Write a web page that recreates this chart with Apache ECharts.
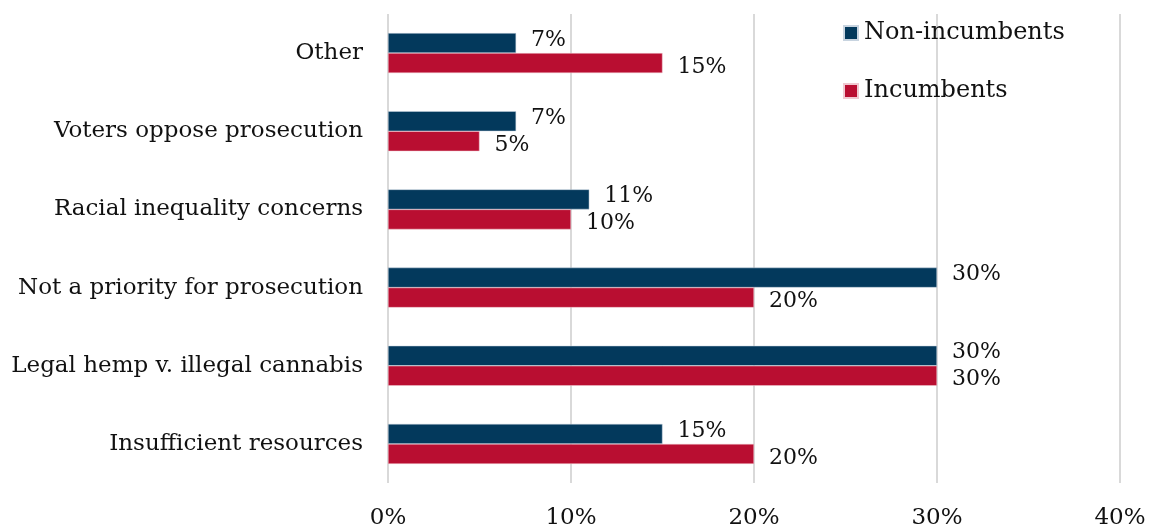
<!DOCTYPE html>
<html><head><meta charset="utf-8">
<script src="https://cdn.jsdelivr.net/npm/echarts@6/dist/echarts.min.js"></script>
<style>html,body{margin:0;padding:0;background:#fff}#c{width:1149px;height:525px}</style>
</head><body><div id="c"></div>
<script>
const categories = ["Insufficient resources","Legal hemp v. illegal cannabis","Not a priority for prosecution","Racial inequality concerns","Voters oppose prosecution","Other"];
const nonIncumbents = [15,30,30,11,7,7];
const incumbents = [20,30,20,10,5,15];
const xTicks = [0,10,20,30,40];
const FONT = "DejaVu Serif";
const chart = echarts.init(document.getElementById('c'));
chart.setOption({
  animation:false,
  textStyle:{fontFamily:FONT},
  grid:{left:388,right:29,top:14,bottom:42,containLabel:false,outerBoundsMode:'none'},
  legend:{orient:'vertical',left:838,top:16,itemWidth:14,itemHeight:14,itemGap:34,icon:'rect',
    data:['Non-incumbents','Incumbents'],
    textStyle:{fontFamily:FONT,fontSize:24,color:'#111',padding:[0,0,0,1]}},
  xAxis:{type:'value',min:xTicks[0],max:xTicks[xTicks.length-1],interval:10,
    axisLine:{show:false},axisTick:{show:false},
    splitLine:{lineStyle:{color:'#d9d9d9',width:2}},
    axisLabel:{formatter:'{value}%',fontFamily:FONT,fontSize:23,color:'#111',margin:24}},
  yAxis:{type:'category',data:categories,
    axisLine:{show:false},axisTick:{show:false},
    axisLabel:{fontFamily:FONT,fontSize:23,color:'#111',margin:25}},
  series:[
    {name:'Non-incumbents',type:'bar',data:nonIncumbents,barWidth:20,barGap:'0%',
      itemStyle:{color:'#03395C',borderColor:'#c8d4e0',borderWidth:0.5},
      label:{show:true,position:'right',distance:15,formatter:'{c}%',fontFamily:FONT,fontSize:22,color:'#111',offset:[0,-3]}},
    {name:'Incumbents',type:'bar',data:incumbents,barWidth:20,barGap:'0%',
      itemStyle:{color:'#B90E31',borderColor:'#f0c8d0',borderWidth:0.5},
      label:{show:true,position:'right',distance:15,formatter:'{c}%',fontFamily:FONT,fontSize:22,color:'#111',offset:[0,4]}}
  ]
});
</script></body></html>
